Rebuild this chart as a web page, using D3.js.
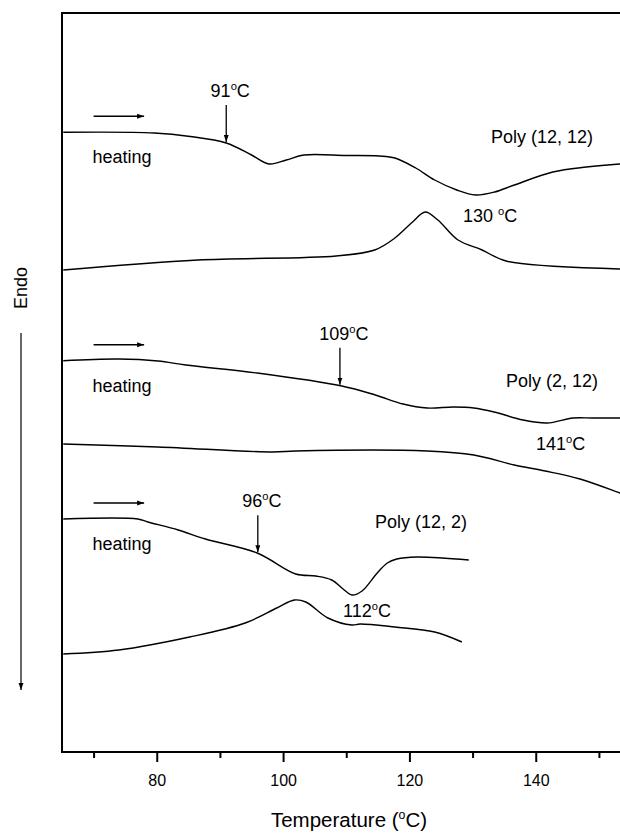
<!DOCTYPE html>
<html><head><meta charset="utf-8">
<script src="https://cdn.jsdelivr.net/npm/d3@7"></script>
<style>body{margin:0;background:#fff}svg{display:block}text{font-family:"Liberation Sans",Arial,sans-serif;fill:#000}</style>
</head><body><svg id="c" width="620" height="834"></svg>
<script>
// Temperatures (°C) and heat-flow signal (arbitrary units, stacked)
const h1212T = [65.2,79.6,85.3,91.0,95.0,97.8,100.5,103.3,110,115.2,117.7,121,124.0,127.5,130.5,133.5,136.6,142.7,148,153.3,155];
const h1212V = [619.7,619,615.5,609,597,588,592,597,596.5,596,594,584,572,562,557,560,567,580,585,588,588.5];
const c1212T = [65.2,86.5,108.4,114.5,117.7,120.5,122.5,124.5,127.7,131.5,135.3,153.3,155];
const c1212V = [482,492,496,502,514,530,540,532,512,502,491,483,482.5];
const h212T = [65.2,74.0,80.2,84.6,95.9,109.3,114.6,119,122.8,127,130.2,133.4,138,141.8,145.9,149,153.3,155];
const h212V = [391.3,393,391,387,379,366,357,348,344,345,344,340,332,329,334,334,334,334];
const c212T = [65.2,80.2,98.4,102,122.8,130.2,136.6,141.5,147,153.3,155];
const c212V = [308,305,300,301,301,297,287,281,273,259,255];
const h122T = [65.2,77.0,78.6,83.4,87.7,95.9,102.0,105.2,107.7,109.5,110.9,112.5,114.9,116.5,118,121.2,129.4];
const h122V = [233,233,230,222,213,199,178,176,172,163,157,161,179,189,193,195,192];
const c122T = [65.2,74.0,85.2,94.0,99.0,101.8,103.6,107.1,110.9,112.2,117.7,124.0,128.3];
const c122V = [98,102,115,129,144,152,150,134,127,128,125,120,110];

const seriesNames = ["Poly (12, 12)","Poly (2, 12)","Poly (12, 2)"];
const markT = [91,109,96];          // onset temperatures marked with arrows
const peakT = [130,141,112];        // peak temperatures labelled
const xTicks = [70,80,90,100,110,120,130,140,150];
const xLabels = [80,100,120,140];

const svg = d3.select("#c");
const x = d3.scaleLinear().domain([65,155]).range([62,630.5]);
const y = d3.scaleLinear().domain([0,739]).range([752,13]);

// frame
svg.append("path").attr("d",`M${x(156)},${y(739)}H${x(65)}V${y(0)}H${x(156)}`)
  .attr("fill","none").attr("stroke","#000").attr("stroke-width",2);

// x axis
const gx = svg.append("g").attr("transform",`translate(0,${y(0)})`)
  .call(d3.axisBottom(x).tickValues(xTicks).tickSize(9).tickPadding(14)
    .tickFormat(d=>xLabels.includes(d)?d:""));
gx.select(".domain").remove();
gx.selectAll(".tick line").attr("stroke","#000").attr("stroke-width",2)
  .attr("y2",d=>xLabels.includes(d)?10:6);
gx.selectAll(".tick text").attr("font-size",16).attr("font-family","Liberation Sans, Arial, sans-serif");

// curves
const line = d3.line().x(d=>x(d[0])).y(d=>y(d[1])).curve(d3.curveCatmullRom.alpha(0.5));
const zip = (a,b)=>a.map((t,i)=>[t,b[i]]);
svg.append("clipPath").attr("id","pc").append("rect")
  .attr("x",x(65)+1).attr("y",y(739)).attr("width",620).attr("height",y(0)-y(739));
[[h1212T,h1212V],[c1212T,c1212V],[h212T,h212V],[c212T,c212V],[h122T,h122V],[c122T,c122V]].forEach(([t,v])=>{
  svg.append("path").attr("d",line(zip(t,v))).attr("fill","none").attr("stroke","#000")
    .attr("stroke-width",1.4).attr("clip-path","url(#pc)");
});

// arrow marker
svg.append("defs").append("marker").attr("id","ah").attr("viewBox","0 0 10 10")
  .attr("refX",10).attr("refY",5).attr("markerWidth",7).attr("markerHeight",7)
  .attr("markerUnits","userSpaceOnUse").attr("orient","auto")
  .append("path").attr("d","M0,1.5L10,5L0,8.5Z").attr("fill","#000");

function interp(T,V,t){for(let i=1;i<T.length;i++){if(t<=T[i]){const f=(t-T[i-1])/(T[i]-T[i-1]);return V[i-1]+f*(V[i]-V[i-1]);}}return V[V.length-1];}
const heatT=[h1212T,h212T,h122T], heatV=[h1212V,h212V,h122V];
const startV=[h1212V[0],h212V[0],h122V[0]];
const fs=18;
function degText(sel,num,sp,f){
  sel.append("tspan").text(num+sp);
  sel.append("tspan").attr("font-size",f*0.62).attr("dy",-7).text("o");
  sel.append("tspan").attr("dy",7).text("C");
}
startV.forEach((v,i)=>{
  const ya=y(v)-16;
  svg.append("line").attr("x1",x(70)).attr("x2",x(78)).attr("y1",ya).attr("y2",ya)
    .attr("stroke","#000").attr("stroke-width",1.5).attr("marker-end","url(#ah)");
  svg.append("text").attr("x",x(70)-1).attr("y",y(v)+31).attr("font-size",fs).text("heating");
  const t=markT[i], vc=interp(heatT[i],heatV[i],t);
  svg.append("line").attr("x1",x(t)).attr("x2",x(t)).attr("y1",y(vc)-38).attr("y2",y(vc)-1)
    .attr("stroke","#000").attr("stroke-width",1.3).attr("marker-end","url(#ah)");
  const tx=svg.append("text").attr("x",x(t)+4).attr("y",y(vc)-46).attr("text-anchor","middle").attr("font-size",fs);
  degText(tx,t,"",fs);
});
// series names
svg.append("text").attr("x",491).attr("y",y(h1212V[0])+11).attr("font-size",fs).text(seriesNames[0]);
svg.append("text").attr("x",506).attr("y",y(h212V[0])+26).attr("font-size",fs).text(seriesNames[1]);
svg.append("text").attr("x",375).attr("y",y(h122V[0])+9).attr("font-size",fs).text(seriesNames[2]);
// peak labels
let t1=svg.append("text").attr("x",463).attr("y",222).attr("font-size",fs); degText(t1,peakT[0]," ",fs);
let t2=svg.append("text").attr("x",536).attr("y",450).attr("font-size",fs); degText(t2,peakT[1],"",fs);
let t3=svg.append("text").attr("x",343).attr("y",617).attr("font-size",fs); degText(t3,peakT[2],"",fs);

// axis title
const tfs=20.5;
const at=svg.append("text").attr("x",349).attr("y",827).attr("text-anchor","middle").attr("font-size",tfs);
at.append("tspan").text("Temperature (");
at.append("tspan").attr("font-size",tfs*0.6).attr("dy",-8).text("o");
at.append("tspan").attr("dy",8).text("C)");

// Endo
svg.append("text").attr("transform","translate(27,288) rotate(-90)").attr("text-anchor","middle").attr("font-size",fs).text("Endo");
svg.append("line").attr("x1",21).attr("x2",21).attr("y1",333).attr("y2",690)
  .attr("stroke","#000").attr("stroke-width",1.2).attr("marker-end","url(#ah)");
</script></body></html>
